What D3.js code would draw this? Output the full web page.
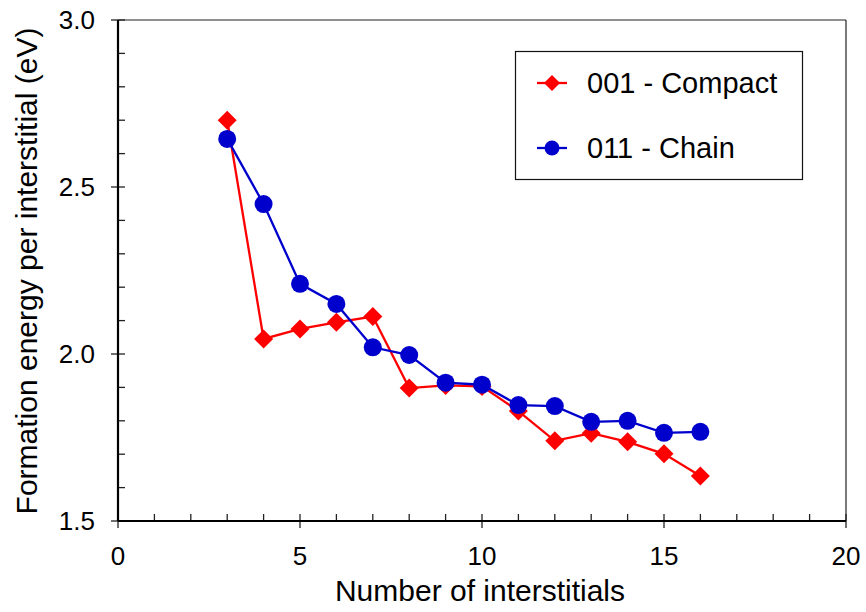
<!DOCTYPE html>
<html><head><meta charset="utf-8">
<script src="https://cdn.jsdelivr.net/npm/d3@7"></script>
<style>body{margin:0;background:#fff}svg{display:block}</style>
</head><body>
<svg id="c" width="866" height="612"></svg>
<script>
const xVals = [3,4,5,6,7,8,9,10,11,12,13,14,15,16];
const compact = [2.70,2.045,2.075,2.095,2.112,1.898,1.906,1.903,1.829,1.740,1.763,1.737,1.701,1.635];
const chain = [2.644,2.449,2.210,2.150,2.020,1.997,1.914,1.908,1.847,1.844,1.797,1.800,1.764,1.767];
const xTicks = [0,5,10,15,20];
const yTicks = [1.5,2.0,2.5,3.0];
const seriesNames = ["001 - Compact","011 - Chain"];

const svg = d3.select("#c");
const font = "Liberation Sans, Arial, sans-serif";
const x = d3.scaleLinear().domain([0,20]).range([118,846]);
const y = d3.scaleLinear().domain([1.5,3.0]).range([521,20]);

// frame top/right
svg.append("line").attr("x1",x(0)).attr("x2",x(20)).attr("y1",y(3)).attr("y2",y(3)).attr("stroke","#222").attr("stroke-width",1.2);
svg.append("line").attr("x1",x(20)).attr("x2",x(20)).attr("y1",y(3)).attr("y2",y(1.5)).attr("stroke","#222").attr("stroke-width",1.2);

// ticks
const g = svg.append("g");
d3.range(0,21,1).forEach(v=>{
  const major = v%5===0;
  g.append("line").attr("x1",x(v)).attr("x2",x(v)).attr("y1",y(1.5)+(major?7:0)).attr("y2",y(1.5)-7).attr("stroke","#222").attr("stroke-width",1.3);
});
d3.range(15,31,1).map(v=>v/10).forEach(v=>{
  const major = Math.round(v*10)%5===0;
  g.append("line").attr("x1",x(0)-(major?7:0)).attr("x2",x(0)+7).attr("y1",y(v)).attr("y2",y(v)).attr("stroke","#222").attr("stroke-width",1.3);
});
// axis lines
svg.append("line").attr("x1",x(0)).attr("x2",x(20)).attr("y1",y(1.5)).attr("y2",y(1.5)).attr("stroke","#000").attr("stroke-width",2.2);
svg.append("line").attr("x1",x(0)).attr("x2",x(0)).attr("y1",y(3)).attr("y2",y(1.5)).attr("stroke","#000").attr("stroke-width",2.2);

// tick labels
svg.selectAll(".xt").data(xTicks).enter().append("text")
  .attr("x",d=>x(d)).attr("y",565).attr("text-anchor","middle")
  .attr("font-family",font).attr("font-size",26).text(d=>d);
svg.selectAll(".yt").data(yTicks).enter().append("text")
  .attr("x",95).attr("y",d=>y(d)+9).attr("text-anchor","end")
  .attr("font-family",font).attr("font-size",26).text(d=>d.toFixed(1));

// titles
svg.append("text").attr("x",480).attr("y",601).attr("text-anchor","middle")
  .attr("font-family",font).attr("font-size",30).text("Number of interstitials");
svg.append("text").attr("transform","translate(37,271) rotate(-90)").attr("text-anchor","middle")
  .attr("font-family",font).attr("font-size",30).text("Formation energy per interstitial (eV)");

const red = "#ff0000", blue = "#0000cc";
const line = d3.line().x(d=>x(d[0])).y(d=>y(d[1]));
const dC = xVals.map((v,i)=>[v,compact[i]]);
const dB = xVals.map((v,i)=>[v,chain[i]]);

svg.append("path").datum(dC).attr("d",line).attr("fill","none").attr("stroke",red).attr("stroke-width",2.3);
svg.append("path").datum(dB).attr("d",line).attr("fill","none").attr("stroke",blue).attr("stroke-width",2.3);

const diamond = (cx,cy,r)=>`M${cx},${cy-r}L${cx+r},${cy}L${cx},${cy+r}L${cx-r},${cy}Z`;
svg.selectAll(".dm").data(dC).enter().append("path")
  .attr("d",d=>diamond(x(d[0]),y(d[1]),9.5)).attr("fill",red);
svg.selectAll(".cc").data(dB).enter().append("circle")
  .attr("cx",d=>x(d[0])).attr("cy",d=>y(d[1])).attr("r",9).attr("fill",blue);

// legend
svg.append("rect").attr("x",515.5).attr("y",51.5).attr("width",287).attr("height",128)
  .attr("fill","#fff").attr("stroke","#111").attr("stroke-width",1.2);
const ly = [83,148];
svg.append("line").attr("x1",537).attr("x2",567).attr("y1",ly[0]).attr("y2",ly[0]).attr("stroke",red).attr("stroke-width",2.3);
svg.append("path").attr("d",diamond(552,ly[0],8)).attr("fill",red);
svg.append("line").attr("x1",537).attr("x2",567).attr("y1",ly[1]).attr("y2",ly[1]).attr("stroke",blue).attr("stroke-width",2.3);
svg.append("circle").attr("cx",552).attr("cy",ly[1]).attr("r",7.5).attr("fill",blue);
seriesNames.forEach((s,i)=>{
  svg.append("text").attr("x",587).attr("y",ly[i]+10).attr("font-family",font).attr("font-size",29).text(s);
});
</script>
</body></html>
